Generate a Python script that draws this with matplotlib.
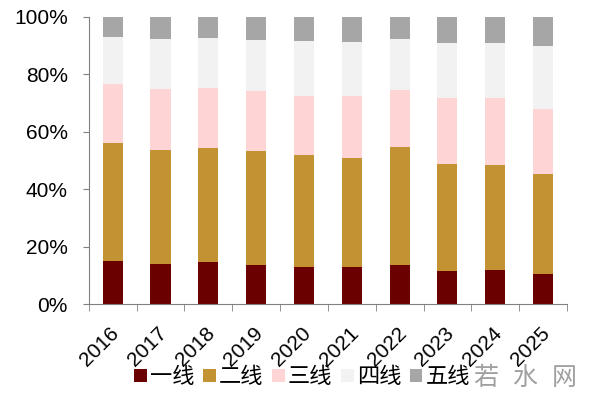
import numpy as np
import matplotlib
matplotlib.use('Agg')
import matplotlib.pyplot as plt
import matplotlib.transforms as mtransforms
from matplotlib.patches import Patch
from matplotlib.ticker import PercentFormatter

plt.rcParams['font.family'] = ['Liberation Sans', 'Noto Sans CJK SC', 'DejaVu Sans']

years = ['2016', '2017', '2018', '2019', '2020', '2021', '2022', '2023', '2024', '2025']
# city tier shares, percent
tier1 = [15.1, 14.1, 14.6, 13.6, 13.0, 12.9, 13.7, 11.5, 11.9, 10.6]
tier2 = [40.9, 39.5, 39.6, 39.6, 38.8, 37.9, 41.1, 37.3, 36.4, 34.6]
tier3 = [20.6, 21.3, 21.0, 20.9, 20.8, 21.5, 19.6, 22.8, 23.3, 22.6]
tier4 = [16.2, 17.5, 17.3, 17.7, 18.8, 19.0, 17.9, 19.4, 19.4, 22.1]
tier5 = [7.2, 7.6, 7.5, 8.2, 8.6, 8.7, 7.7, 9.0, 9.0, 10.1]

names = ['一线', '二线', '三线', '四线', '五线']
colors = ['#6B0000', '#C39233', '#FFD4D4', '#F2F2F2', '#A6A6A6']
series = [tier1, tier2, tier3, tier4, tier5]

fig = plt.figure(figsize=(6, 3.97), dpi=100)
ax = fig.add_axes([0.148, 0.233, 0.797, 0.725])

x = np.arange(len(years))
bottom = np.zeros(len(years))
for vals, c in zip(series, colors):
    v = np.array(vals)
    ax.bar(x, v, width=0.42, bottom=bottom, color=c, linewidth=0)
    bottom += v

ax.set_xlim(-0.5, len(years) - 0.5)
ax.set_ylim(0, 100)
ax.yaxis.set_major_formatter(PercentFormatter(decimals=0))
ax.set_yticks([0, 20, 40, 60, 80, 100])

ax.set_xticks(x)
ax.set_xticklabels(years, rotation=45, ha='right', va='top', rotation_mode='anchor')
ax.set_xticks(np.arange(-0.5, len(years)), minor=True)
ax.tick_params(axis='x', which='major', length=0, pad=14, labelsize=15)
ax.tick_params(axis='x', which='minor', length=5, color='#808080', direction='out')
ax.tick_params(axis='y', length=4, color='#808080', labelsize=15, pad=11)
shift = mtransforms.ScaledTranslation(-3 / 100, 0, fig.dpi_scale_trans)
for lab in ax.get_xticklabels():
    lab.set_transform(lab.get_transform() + shift)

for s in ['top', 'right']:
    ax.spines[s].set_visible(False)
for s in ['left', 'bottom']:
    ax.spines[s].set_color('#808080')
    ax.spines[s].set_linewidth(0.8)

handles = [Patch(facecolor=c, edgecolor='none') for c in colors]
fig.legend(handles, names, loc='center', bbox_to_anchor=(0.504, 0.048), ncol=5,
           frameon=False, fontsize=16, handlelength=0.55, handleheight=0.55,
           handletextpad=0.15, columnspacing=0.4)

fig.text(0.875, 0.048, '若  水  网', ha='center', va='center', fontsize=18, color='#A0A0A0')

fig.savefig('out.png', dpi=100)
